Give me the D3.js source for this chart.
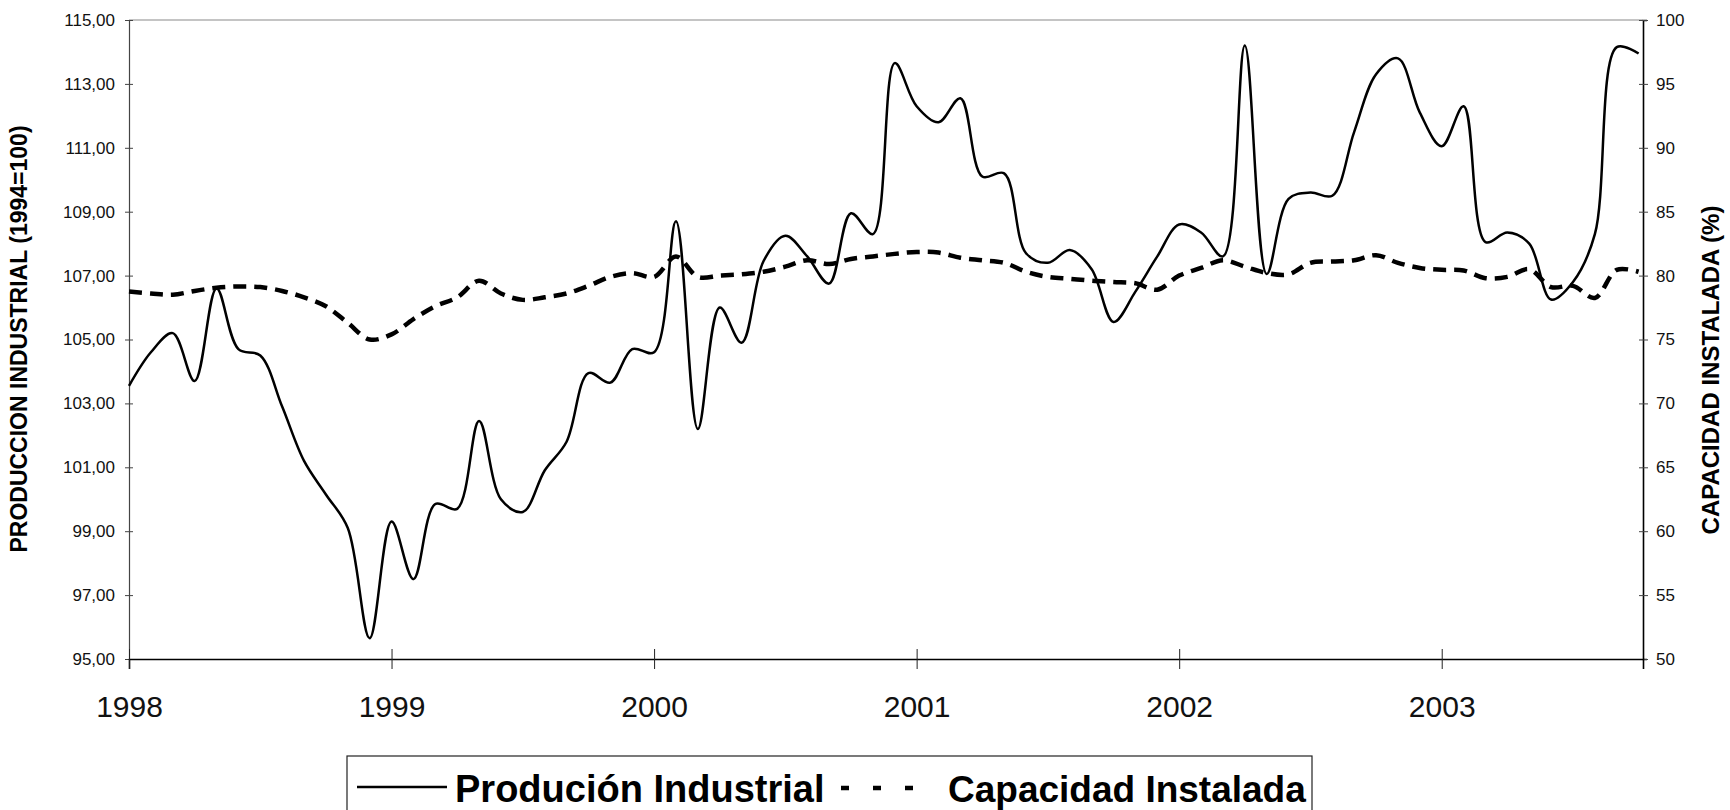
<!DOCTYPE html>
<html>
<head>
<meta charset="utf-8">
<script src="https://cdn.jsdelivr.net/npm/d3@7"></script>
<style>
    body { margin: 0; background: #fff; }
    svg { display: block; font-family: "Liberation Sans", Arial, sans-serif; }
</style>
</head>
<body>
<div id="container"></div>
<script>

// Year labels on the x axis (one per January)
var years = ["1998", "1999", "2000", "2001", "2002", "2003"];

// Monthly values, Jan 1998 - Oct 2003
var produccion = [
    103.55, 104.6, 105.2, 103.7, 106.6, 104.7, 104.5, 102.9, 101.2, 100.15, 99.1, 95.65,
    99.3, 97.5, 99.85, 99.7, 102.45, 100.0, 99.6, 100.9, 101.8, 103.95, 103.65, 104.7,
    104.6, 108.7, 102.2, 106.0, 104.9, 107.45, 108.25, 107.6, 106.75, 108.95, 108.3, 113.65,
    112.3, 111.8, 112.55, 110.1, 110.2, 107.7, 107.4, 107.8, 107.2, 105.55, 106.5, 107.6,
    108.6, 108.35, 107.6, 114.2, 107.05, 109.4, 109.6, 109.5, 111.5, 113.3, 113.8, 112.1,
    111.05, 112.3, 108.05, 108.35, 108.0, 106.25, 106.8, 108.3, 114.15, 113.95
];

var capacidad = [
    78.75, 78.6, 78.5, 78.8, 79.05, 79.15, 79.1, 78.8, 78.3, 77.6, 76.3, 75.0,
    75.4, 76.6, 77.6, 78.3, 79.6, 78.6, 78.1, 78.3, 78.6, 79.2, 79.9, 80.2,
    79.9, 81.5, 79.9, 80.0, 80.1, 80.3, 80.7, 81.2, 80.9, 81.3, 81.5, 81.7,
    81.85, 81.8, 81.4, 81.2, 81.0, 80.3, 79.9, 79.75, 79.6, 79.5, 79.4, 78.9,
    80.0, 80.6, 81.2, 80.7, 80.2, 80.1, 81.0, 81.1, 81.2, 81.6, 81.0, 80.6,
    80.45, 80.4, 79.8, 79.9, 80.5, 79.1, 79.2, 78.25, 80.45, 80.3
];

var leftTicks = [95, 97, 99, 101, 103, 105, 107, 109, 111, 113, 115];
var rightTicks = [50, 55, 60, 65, 70, 75, 80, 85, 90, 95, 100];

var seriesNames = ["Produción Industrial", "Capacidad Instalada"];

createVis();

function createVis() {
    var W = 1730, H = 810;
    var margin = {top: 20, right: 87, bottom: 151, left: 129};
    var width = W - margin.left - margin.right,
        height = H - margin.top - margin.bottom;

    var svg = d3.select("div#container")
        .append("svg")
        .attr("width", W)
        .attr("height", H);

    var g = svg.append("g")
        .attr("transform", "translate(" + margin.left + "," + margin.top + ")");

    // scales
    var x = d3.scaleLinear()
        .domain([0, 69.2])
        .range([0, width]);

    var yLeft = d3.scaleLinear()
        .domain([95, 115])
        .range([height, 0]);

    var yRight = d3.scaleLinear()
        .domain([50, 100])
        .range([height, 0]);

    // top frame line
    g.append("line")
        .attr("x1", 0).attr("x2", width)
        .attr("y1", 0).attr("y2", 0)
        .attr("stroke", "#8a8a8a")
        .attr("stroke-width", 1.2);

    // left axis
    var leftAxis = g.append("g")
        .attr("class", "axis")
        .call(d3.axisLeft(yLeft)
            .tickValues(leftTicks)
            .tickSize(4)
            .tickFormat(function(d) { return d.toFixed(2).replace(".", ","); }));
    leftAxis.select(".domain").attr("stroke", "#444").attr("stroke-width", 1.2);
    leftAxis.selectAll(".tick line").attr("x1", -4).attr("x2", 4).attr("stroke", "#444");
    leftAxis.selectAll(".tick text")
        .attr("x", -14)
        .style("font-size", "17px")
        .style("fill", "#111");

    // right axis
    var rightAxis = g.append("g")
        .attr("class", "axis")
        .attr("transform", "translate(" + width + ",0)")
        .call(d3.axisRight(yRight)
            .tickValues(rightTicks)
            .tickSize(4));
    rightAxis.select(".domain").attr("stroke", "#000").attr("stroke-width", 1.6);
    rightAxis.selectAll(".tick line").attr("x1", -4).attr("x2", 5).attr("stroke", "#444");
    rightAxis.selectAll(".tick text")
        .attr("x", 13)
        .style("font-size", "17px")
        .style("fill", "#111");

    // bottom axis
    var bottomAxis = g.append("g")
        .attr("class", "axis")
        .attr("transform", "translate(0," + height + ")")
        .call(d3.axisBottom(x)
            .tickValues(years.map(function(d, i) { return i * 12; }))
            .tickSize(10)
            .tickFormat(function(d, i) { return years[i]; }));
    bottomAxis.select(".domain").attr("stroke", "#000").attr("stroke-width", 1.6);
    bottomAxis.selectAll(".tick line").attr("y1", -10).attr("y2", 10).attr("stroke", "#222");
    bottomAxis.selectAll(".tick text")
        .attr("y", 58)
        .attr("dy", 0)
        .style("font-size", "30px")
        .style("fill", "#111");

    // axis titles
    svg.append("text")
        .attr("transform", "translate(27," + 339 + ") rotate(-90)")
        .attr("text-anchor", "middle")
        .style("font-size", "23px")
        .style("font-weight", "bold")
        .text("PRODUCCION INDUSTRIAL (1994=100)");

    svg.append("text")
        .attr("transform", "translate(1719," + 370 + ") rotate(-90)")
        .attr("text-anchor", "middle")
        .style("font-size", "24px")
        .style("font-weight", "bold")
        .text("CAPACIDAD INSTALADA (%)");

    // lines
    var lineProd = d3.line()
        .x(function(d, i) { return x(i); })
        .y(function(d) { return yLeft(d); })
        .curve(d3.curveCatmullRom.alpha(0.5));

    var lineCap = d3.line()
        .x(function(d, i) { return x(i); })
        .y(function(d) { return yRight(d); })
        .curve(d3.curveCatmullRom.alpha(0.5));

    g.append("path")
        .datum(capacidad)
        .attr("fill", "none")
        .attr("stroke", "#000")
        .attr("stroke-width", 4.5)
        .attr("stroke-dasharray", "13,8")
        .attr("d", lineCap);

    g.append("path")
        .datum(produccion)
        .attr("fill", "none")
        .attr("stroke", "#000")
        .attr("stroke-width", 2.5)
        .attr("stroke-linejoin", "round")
        .attr("d", lineProd);

    // legend
    var legend = svg.append("g");
    legend.append("rect")
        .attr("x", 347).attr("y", 756)
        .attr("width", 965).attr("height", 90)
        .attr("fill", "none")
        .attr("stroke", "#222")
        .attr("stroke-width", 1.2);

    legend.append("line")
        .attr("x1", 357).attr("x2", 447)
        .attr("y1", 787).attr("y2", 787)
        .attr("stroke", "#000").attr("stroke-width", 2.5);
    legend.append("text")
        .attr("x", 455).attr("y", 802)
        .style("font-size", "38px")
        .style("font-weight", "bold")
        .text(seriesNames[0]);

    legend.append("line")
        .attr("x1", 841).attr("x2", 922)
        .attr("y1", 788).attr("y2", 788)
        .attr("stroke", "#000").attr("stroke-width", 4.5)
        .attr("stroke-dasharray", "8,24");
    legend.append("text")
        .attr("x", 948).attr("y", 802)
        .style("font-size", "37px")
        .style("font-weight", "bold")
        .text(seriesNames[1]);
}
</script>
</body>
</html>
